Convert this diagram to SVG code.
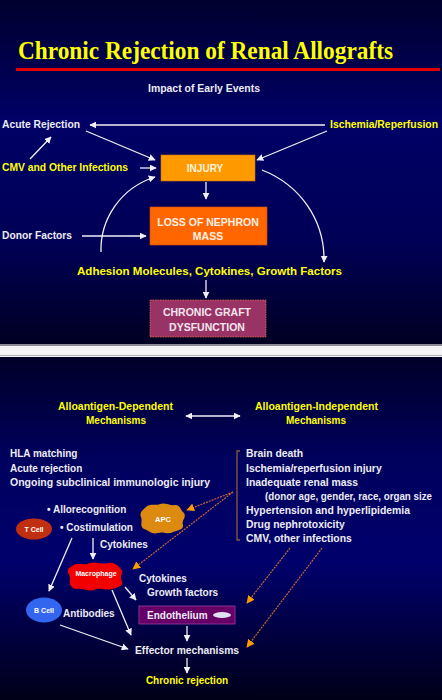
<svg xmlns="http://www.w3.org/2000/svg" width="442" height="700" viewBox="0 0 442 700">
<defs>
<linearGradient id="bgTop" x1="0" y1="0" x2="0" y2="1">
<stop offset="0" stop-color="#00002e"/>
<stop offset="0.35" stop-color="#000066"/>
<stop offset="0.7" stop-color="#000056"/>
<stop offset="1" stop-color="#000022"/>
</linearGradient>
<linearGradient id="bgBot" x1="0" y1="0" x2="0" y2="1">
<stop offset="0" stop-color="#000028"/>
<stop offset="0.3" stop-color="#00005e"/>
<stop offset="0.6" stop-color="#00006c"/>
<stop offset="1" stop-color="#000018"/>
</linearGradient>
<marker id="aw" viewBox="0 0 10 10" refX="9" refY="5" markerWidth="7" markerHeight="7" markerUnits="userSpaceOnUse" orient="auto-start-reverse">
<path d="M0,0 L10,5 L0,10 z" fill="#f0f0f6"/>
</marker>
<marker id="ao" viewBox="0 0 10 10" refX="9" refY="5" markerWidth="8" markerHeight="8" markerUnits="userSpaceOnUse" orient="auto">
<path d="M0,0 L10,5 L0,10 z" fill="#ff9900"/>
</marker>
<style>
.t{font-family:"Liberation Sans",Arial,sans-serif;font-weight:bold;}
.w{fill:#ececf4;}
.y{fill:#ffff00;}
.c{text-anchor:middle;}
.ln{stroke:#f0f0f6;stroke-width:1.3;fill:none;marker-end:url(#aw);}
.od{stroke:#cc6633;stroke-width:1.2;stroke-dasharray:2 1;fill:none;marker-end:url(#ao);}
</style>
</defs>

<!-- backgrounds -->
<rect x="0" y="0" width="442" height="345" fill="url(#bgTop)"/>
<rect x="0" y="357" width="442" height="343" fill="url(#bgBot)"/>
<rect x="0" y="344" width="442" height="13" fill="#f4f4f6"/>
<rect x="0" y="344" width="442" height="2" fill="#8a8a95"/>
<rect x="0" y="355" width="442" height="1" fill="#b0b0b8"/>

<!-- title -->
<g id="title">
<text x="18" y="59" font-family="'Liberation Serif','Times New Roman',serif" font-weight="bold" font-size="26" fill="#ffff00" textLength="375" lengthAdjust="spacingAndGlyphs">Chronic Rejection of Renal Allografts</text>
<rect x="16" y="68" width="424" height="3" fill="#e00000"/>
<text class="t w" x="148" y="92" font-size="10" textLength="112" lengthAdjust="spacingAndGlyphs">Impact of Early Events</text>
</g>

<!-- top panel nodes -->
<g id="acute-rejection"><text class="t w" x="2" y="128" font-size="10" textLength="78" lengthAdjust="spacingAndGlyphs">Acute Rejection</text></g>
<g id="ischemia"><text class="t y" x="330" y="128" font-size="10" textLength="108" lengthAdjust="spacingAndGlyphs">Ischemia/Reperfusion</text></g>
<g id="cmv"><text class="t y" x="2" y="171" font-size="10" textLength="126" lengthAdjust="spacingAndGlyphs">CMV and Other Infections</text></g>
<g id="donor"><text class="t w" x="2" y="239" font-size="10" textLength="70" lengthAdjust="spacingAndGlyphs">Donor Factors</text></g>
<g id="injury">
<rect x="161" y="155" width="94" height="26" fill="#ff9900" stroke="#cc7a00" stroke-width="0.6"/>
<text class="t c" x="205" y="172" font-size="10" fill="#fff4dd">INJURY</text>
</g>
<g id="loss">
<rect x="150" y="207" width="117" height="38" fill="#ff6600" stroke="#d65200" stroke-width="0.6"/>
<text class="t c" x="208" y="226" font-size="10.5" fill="#fff0e6">LOSS OF NEPHRON</text>
<text class="t c" x="208" y="240" font-size="10.5" fill="#fff0e6">MASS</text>
</g>
<g id="adhesion"><text class="t y" x="77" y="275" font-size="11.5" textLength="265" lengthAdjust="spacingAndGlyphs">Adhesion Molecules, Cytokines, Growth Factors</text></g>
<g id="chronic-graft">
<rect x="150" y="300" width="116" height="37" fill="#993366" stroke="#d46a3a" stroke-width="0.8" stroke-dasharray="1.5 1"/>
<text class="t c" x="207" y="316" font-size="10.5" fill="#f4e6ee">CHRONIC GRAFT</text>
<text class="t c" x="207" y="331" font-size="10.5" fill="#f4e6ee">DYSFUNCTION</text>
</g>

<!-- bottom panel nodes -->
<g id="dependent">
<text class="t y" x="58" y="410" font-size="10" textLength="115" lengthAdjust="spacingAndGlyphs">Alloantigen-Dependent</text>
<text class="t y c" x="116" y="424" font-size="10">Mechanisms</text>
</g>
<g id="independent">
<text class="t y" x="255" y="410" font-size="10" textLength="123" lengthAdjust="spacingAndGlyphs">Alloantigen-Independent</text>
<text class="t y c" x="316" y="424" font-size="10">Mechanisms</text>
</g>
<g id="dep-list" font-size="10">
<text class="t w" x="10" y="457">HLA matching</text>
<text class="t w" x="10" y="472">Acute rejection</text>
<text class="t w" x="10" y="486" textLength="200" lengthAdjust="spacingAndGlyphs">Ongoing subclinical immunologic injury</text>
</g>
<g id="indep-list" font-size="10.4">
<path d="M240,451 L237,451 L237,540 L240,540" stroke="#8b5a3c" stroke-width="1.3" fill="none"/>
<text class="t w" x="246" y="457">Brain death</text>
<text class="t w" x="246" y="472">Ischemia/reperfusion injury</text>
<text class="t w" x="246" y="486">Inadequate renal mass</text>
<text class="t w" x="265" y="500" font-size="10" textLength="167" lengthAdjust="spacingAndGlyphs">(donor age, gender, race, organ size</text>
<text class="t w" x="246" y="514">Hypertension and hyperlipidemia</text>
<text class="t w" x="246" y="528">Drug nephrotoxicity</text>
<text class="t w" x="246" y="542">CMV, other infections</text>
</g>
<g id="t-cell">
<ellipse cx="34" cy="529" rx="18" ry="10.5" fill="#c03010"/>
<text class="t c" x="34" y="532" font-size="7" fill="#ffffff">T Cell</text>
</g>
<g id="t-cell-labels" font-size="10">
<text class="t w" x="47" y="513">• Allorecognition</text>
<text class="t w" x="60" y="531">• Costimulation</text>
<text class="t w" x="100" y="548">Cytokines</text>
</g>
<g id="apc">
<path d="M146,507 C150,503 156,506 160,504 C165,502 170,506 175,505 C181,505 180,510 184,513 C187,518 181,520 183,525 C184,530 177,530 173,532 C168,535 163,531 158,533 C152,535 148,530 144,529 C139,526 143,521 141,517 C139,512 143,510 146,507 Z" fill="#dd8a10"/>
<text class="t c" x="163" y="522" font-size="7.5" fill="#ffffff">APC</text>
</g>
<g id="macrophage">
<path d="M72,566 C78,562 84,566 90,563 C96,561 102,565 108,563 C115,562 118,566 121,569 C124,573 119,577 122,581 C124,586 117,588 112,589 C105,591 100,587 94,590 C88,592 82,588 77,589 C71,589 69,584 70,580 C71,576 67,573 68,570 C69,567 71,567 72,566 Z" fill="#f20000"/>
<text class="t c" x="96" y="576" font-size="7" fill="#ffffff">Macrophage</text>
</g>
<g id="mac-labels" font-size="10">
<text class="t w" x="139" y="582">Cytokines</text>
<text class="t w" x="147" y="596">Growth factors</text>
</g>
<g id="b-cell">
<ellipse cx="44" cy="610" rx="18" ry="12.5" fill="#3366ee"/>
<text class="t c" x="44" y="613" font-size="7" fill="#ffffff">B Cell</text>
<text class="t w" x="63" y="617" font-size="10">Antibodies</text>
</g>
<g id="endothelium">
<rect x="139" y="606" width="96" height="18" fill="#660066" stroke="#a03aa0" stroke-width="0.8"/>
<text class="t w" x="147" y="619" font-size="10">Endothelium</text>
<ellipse cx="222" cy="615" rx="9" ry="3" fill="#e0e0f0"/>
</g>
<g id="effector"><text class="t w c" x="187" y="654" font-size="10.3">Effector mechanisms</text></g>
<g id="chronic-rejection"><text class="t y c" x="187" y="684" font-size="10">Chronic rejection</text></g>

<!-- connectors -->
<g id="connectors">
<path class="ln" d="M325,125 L90,125"/>
<path class="ln" d="M86,131 L155,160"/>
<path class="ln" d="M327,131 L257,160"/>
<path class="ln" d="M30,159 L51,137"/>
<path class="ln" d="M140,168 L156,168"/>
<path class="ln" d="M206,182 L206,199"/>
<path class="ln" d="M101,252 C100,220 120,188 155,177"/>
<path class="ln" d="M262,170 C300,185 325,220 324,262"/>
<path class="ln" d="M82,236 L146,236"/>
<path class="ln" d="M206,280 L206,298"/>
<path class="ln" d="M186,416 L240,416" marker-start="url(#aw)"/>
<path class="ln" d="M93,538 L93,559"/>
<path class="ln" d="M72,538 L49,591"/>
<path class="ln" d="M125,587 L136,600"/>
<path class="ln" d="M112,590 L131,635"/>
<path class="ln" d="M60,625 L128,649"/>
<path class="ln" d="M187,626 L187,641"/>
<path class="ln" d="M187,658 L187,673"/>
<path class="od" d="M233,492 L187,510"/>
<path class="od" d="M233,492 L133,569"/>
<path class="od" d="M290,548 L247,603"/>
<path class="od" d="M322,548 L247,647"/>
</g>
</svg>
